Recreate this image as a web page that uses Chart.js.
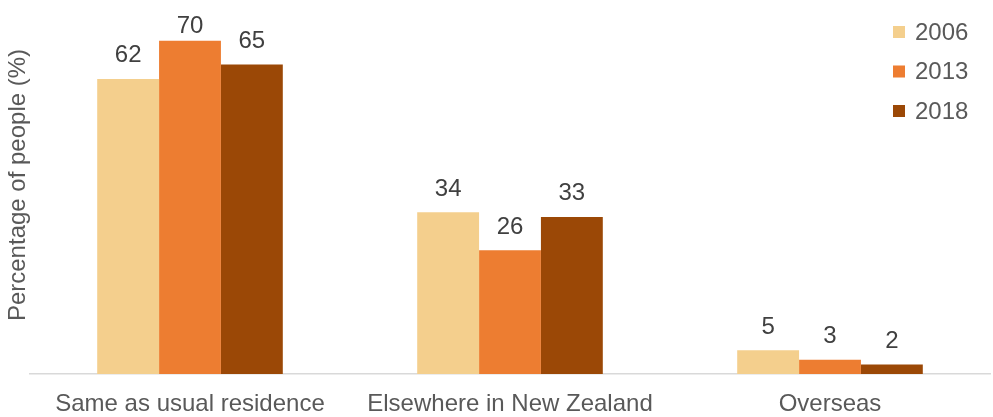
<!DOCTYPE html>
<html>
<head>
<meta charset="utf-8">
<script src="https://cdn.jsdelivr.net/npm/chart.js@4/dist/chart.umd.min.js"></script>
<style>
html,body{margin:0;padding:0;background:#fff;}
#wrap{width:993px;height:417px;position:relative;}
</style>
</head>
<body>
<div id="wrap"><canvas id="bars" width="993" height="417"></canvas></div>
<script>
// values
let categories=["Same as usual residence","Elsewhere in New Zealand","Overseas"];
let years=["2006","2013","2018"];
let v2006=[62,34,5];
let v2013=[70,26,3];
let v2018=[65,33,2];
let colours=["#F4CF8D","#ED7D31","#9B4806"];
let yTitle="Percentage of people (%)";

let font="Arial, 'Liberation Sans', sans-serif";

// numbers above bars (pushed down a bit when too close to the top)
let valueLabels={
  id:'valueLabels',
  afterDatasetsDraw(chart){
    let ctx=chart.ctx;
    ctx.save();
    ctx.font="24px "+font;
    ctx.fillStyle="#404040";
    ctx.textAlign="center";
    ctx.textBaseline="alphabetic";
    chart.data.datasets.forEach((ds,i)=>{
      chart.getDatasetMeta(i).data.forEach((bar,j)=>{
        ctx.fillText(ds.data[j],bar.x,Math.max(bar.y-16.5,33));
      });
    });
    ctx.restore();
  }
};

// legend top right + y title
let sideText={
  id:'sideText',
  afterDraw(chart){
    let ctx=chart.ctx;
    ctx.save();
    ctx.font="24px "+font;
    ctx.textBaseline="middle";
    chart.data.datasets.forEach((ds,i)=>{
      let y=32+i*39.5;
      ctx.fillStyle=ds.backgroundColor;
      ctx.fillRect(893,y-6,12,12);
      ctx.fillStyle="#595959";
      ctx.textAlign="left";
      ctx.fillText(ds.label,915,y+1);
    });
    ctx.translate(18,185);
    ctx.rotate(-Math.PI/2);
    ctx.textAlign="center";
    ctx.fillStyle="#595959";
    ctx.fillText(yTitle,0,0);
    ctx.restore();
  }
};

new Chart(document.getElementById("bars"),{
  type:'bar',
  data:{
    labels:categories,
    datasets:[
      {label:years[0],data:v2006,backgroundColor:colours[0]},
      {label:years[1],data:v2013,backgroundColor:colours[1]},
      {label:years[2],data:v2018,backgroundColor:colours[2]}
    ]
  },
  options:{
    responsive:false,
    animation:false,
    devicePixelRatio:1,
    layout:{padding:{left:30,right:3,top:17,bottom:0}},
    datasets:{bar:{categoryPercentage:0.58,barPercentage:1}},
    plugins:{legend:{display:false},tooltip:{enabled:false}},
    scales:{
      x:{
        grid:{display:false},
        border:{color:"#D9D9D9",width:1.5},
        ticks:{color:"#595959",font:{size:24,family:font},padding:8,maxRotation:0},
        afterFit(scale){scale.height=43;}
      },
      y:{display:false,min:0,max:75}
    }
  },
  plugins:[valueLabels,sideText]
});
</script>
</body>
</html>
